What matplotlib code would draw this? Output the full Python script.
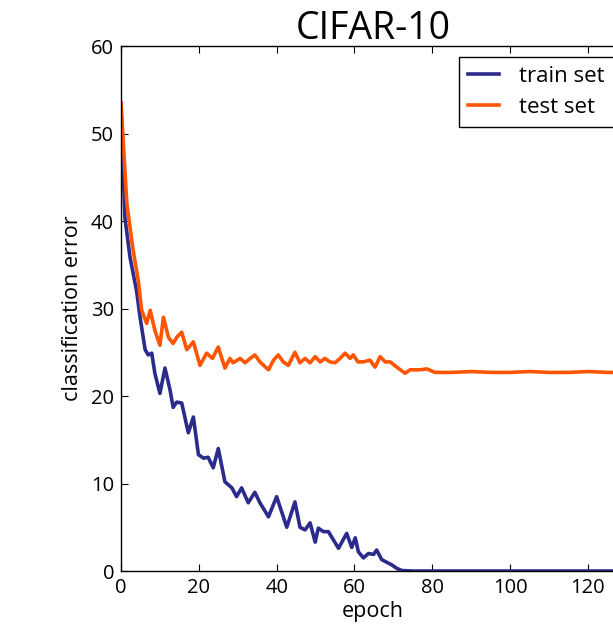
import matplotlib
matplotlib.use("Agg")
import matplotlib.pyplot as plt

plt.rcParams['font.family'] = ['Open Sans', 'DejaVu Sans']

# Test-set classification error (%) per epoch
test_epochs = [0, 1.5, 3, 4.5, 5.3, 6.6, 7.5, 8.7, 10, 10.9, 12.2, 13.4, 14.3, 15.6,
               16.9, 18.6, 20.3, 22, 23.5, 25, 26.7, 28, 28.8, 30.6, 31.9, 33.2, 34.4,
               35.7, 37.9, 39.2, 40.4, 41.7, 43, 44.7, 46, 47.3, 48.6, 49.9, 51.2, 52.4,
               53.7, 55, 56.3, 57.6, 58.9, 59.7, 60.9, 62.2, 64, 65.3, 66.6, 67.9, 69.2,
               70.9, 73, 74.3, 76.9, 78.6, 80.7, 85, 90, 95, 100, 105, 110, 115, 120,
               125, 130]
test_error = [53.5, 42, 37, 33, 29.8, 28.3, 29.8, 27.5, 25.8, 29, 26.7, 26, 26.7, 27.3,
              25.3, 26.2, 23.5, 24.9, 24.3, 25.6, 23.2, 24.3, 23.8, 24.3, 23.8, 24.3, 24.7,
              23.9, 23.0, 24.1, 24.7, 23.9, 23.5, 25.0, 23.8, 24.3, 23.8, 24.5, 23.9, 24.3,
              23.9, 23.8, 24.3, 24.9, 24.3, 24.7, 23.9, 23.9, 24.1, 23.3, 24.5, 23.9, 23.9,
              23.3, 22.6, 23.0, 23.0, 23.1, 22.7, 22.7, 22.8, 22.7, 22.7, 22.8, 22.7, 22.7,
              22.8, 22.7, 22.7]

# Train-set classification error (%) per epoch
train_epochs = [0, 1, 2.3, 4, 4.9, 6.2, 7, 7.9, 8.7, 10, 11.3, 12.6, 13.4, 14.3, 15.6,
                17.3, 18.6, 19.9, 21.2, 22.4, 23.7, 25, 26.7, 28.5, 29.7, 31, 32.7, 34.4,
                35.7, 37.9, 40, 42.6, 44.7, 46, 47.3, 48.6, 49.9, 50.7, 52, 53.3, 55.9,
                58, 59.3, 60.2, 61, 62.3, 63.6, 64.9, 65.7, 67, 68.3, 69.6, 70.9, 72.2,
                75, 80, 90, 100, 110, 120, 130]
train_error = [53.5, 40.4, 35.9, 32, 29, 25.3, 24.7, 24.9, 22.6, 20.3, 23.2, 20.7, 18.7,
               19.3, 19.2, 15.8, 17.6, 13.3, 12.9, 13.0, 11.8, 14.0, 10.2, 9.5, 8.5, 9.5,
               7.8, 9.0, 7.8, 6.2, 8.5, 5.0, 7.9, 5.0, 4.7, 5.5, 3.3, 4.9, 4.5, 4.5, 2.6,
               4.3, 2.7, 3.8, 2.2, 1.5, 2.0, 1.9, 2.4, 1.3, 1.0, 0.7, 0.3, 0.05,
               0, 0, 0, 0, 0, 0, 0]

x_ticks = [0, 20, 40, 60, 80, 100, 120]
y_ticks = [0, 10, 20, 30, 40, 50, 60]

fig = plt.figure(figsize=(6.13, 6.24), dpi=100)
ax = fig.add_axes([0.1974, 0.0849, 0.822, 0.8413])

ax.plot(train_epochs, train_error, color='#2b2b8c', lw=2.6, label='train set')
ax.plot(test_epochs, test_error, color='#ff5500', lw=2.6, label='test set')

ax.set_xlim(0, 129.5)
ax.set_ylim(0, 60)
ax.set_xticks(x_ticks)
ax.set_yticks(y_ticks)
ax.tick_params(direction='in', top=True, right=True, length=5, width=0.8,
               labelsize=14.5, pad=5)
for s in ax.spines.values():
    s.set_linewidth(1.0)
    s.set_color('black')

ax.set_xlabel('epoch', fontsize=15.5, labelpad=2)
ax.set_ylabel('classification error', fontsize=15.5, labelpad=6)
ax.set_title('CIFAR-10', fontsize=27, pad=5)

leg = ax.legend(loc='upper right', fontsize=16, fancybox=False, framealpha=1,
                edgecolor='black', handlelength=1.4, handletextpad=0.9,
                labelspacing=0.45, borderpad=0.4, borderaxespad=0.5)
leg.get_frame().set_linewidth(1.0)

fig.savefig('out.png', dpi=100)
